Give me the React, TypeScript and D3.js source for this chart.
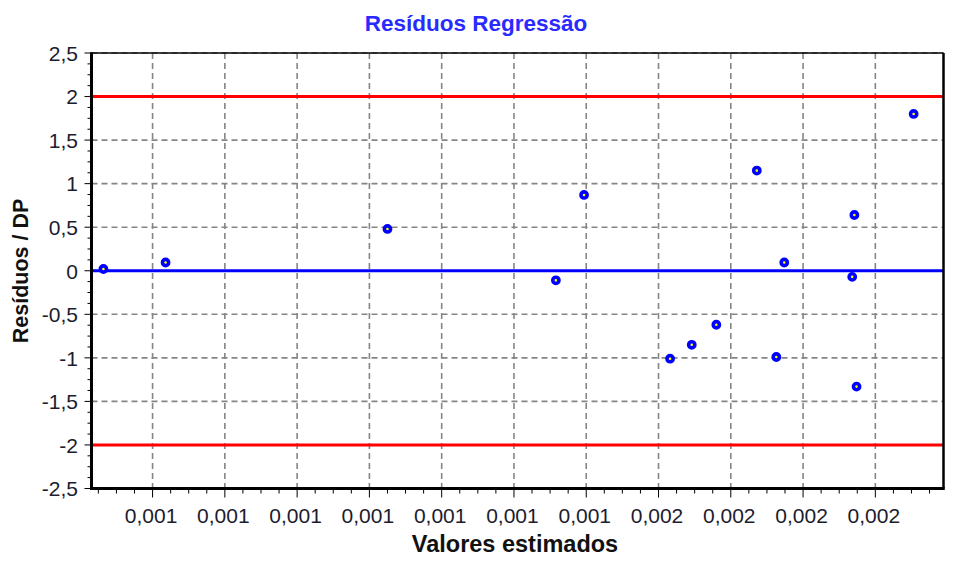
import React from "react";
import * as d3 from "d3";

const W = 959;
const H = 578;

const chartTitle = "Resíduos Regressão";
const xTitle = "Valores estimados";
const yTitle = "Resíduos / DP";

const xTickValues = [0.00082, 0.00092, 0.00102, 0.00112, 0.00122, 0.00132, 0.00142, 0.00152, 0.00162, 0.00172, 0.00182];
const xTickLabels = ["0,001", "0,001", "0,001", "0,001", "0,001", "0,001", "0,001", "0,002", "0,002", "0,002", "0,002"];
const yTickValues = [-2.5, -2, -1.5, -1, -0.5, 0, 0.5, 1, 1.5, 2, 2.5];
const yTickLabels = ["-2,5", "-2", "-1,5", "-1", "-0,5", "0", "0,5", "1", "1,5", "2", "2,5"];

const estimados = [0.000752, 0.000838, 0.001145, 0.001378, 0.001417, 0.001536, 0.001566, 0.0016, 0.001656, 0.001683, 0.001694, 0.001791, 0.001788, 0.001794, 0.001873];
const residuos = [0.02, 0.095, 0.48, -0.11, 0.87, -1.01, -0.85, -0.62, 1.15, -0.99, 0.095, 0.64, -0.07, -1.33, 1.8];

const limits = [-2, 2];
const xDomain = [0.0007355, 0.0019143];
const yDomain = [-2.5, 2.5];

export default function App() {
  const left = 91.5, right = 943.5, top = 53, bottom = 488.5;
  const x = d3.scaleLinear().domain(xDomain).range([left, right]);
  const y = d3.scaleLinear().domain(yDomain).range([bottom, top]);

  const xStep = xTickValues[1] - xTickValues[0];
  const xMinor: number[] = [];
  for (let k = -8; k <= 48; k++) {
    const v = xTickValues[0] + (k * xStep) / 4;
    if (v >= xDomain[0] && v <= xDomain[1] && k % 4 !== 0) xMinor.push(v);
  }
  const yMinor: number[] = [];
  for (let k = -20; k <= 20; k++) {
    const v = (k * 0.5) / 4;
    if (k % 4 !== 0) yMinor.push(v);
  }

  const font = "'Liberation Sans', Arial, sans-serif";
  const gridColor = "#858585";

  return (
    <svg width={W} height={H} style={{ position: "absolute", left: 0, top: 0, background: "#fff" }} fontFamily={font}>
      <rect x={0} y={0} width={W} height={H} fill="#fff" />
      <text x={476} y={31} textAnchor="middle" fontSize={22.5} fontWeight="bold" fill="#2a2aff">{chartTitle}</text>

      {/* grid */}
      {xTickValues.map((v, i) => (
        <line key={"gx" + i} x1={x(v)} x2={x(v)} y1={top} y2={bottom} stroke={gridColor} strokeWidth={1.6} strokeDasharray="6,4" />
      ))}
      {yTickValues.map((v, i) => (
        <line key={"gy" + i} x1={left} x2={right} y1={y(v)} y2={y(v)} stroke={gridColor} strokeWidth={1.6} strokeDasharray="6,4" />
      ))}

      {/* limit lines */}
      {limits.map((v, i) => (
        <line key={"lim" + i} x1={left} x2={right} y1={y(v)} y2={y(v)} stroke="#ff0000" strokeWidth={3} />
      ))}
      <line x1={left} x2={right} y1={y(0)} y2={y(0)} stroke="#0000ff" strokeWidth={3} />

      {/* points */}
      {estimados.map((v, i) => (
        <circle key={"p" + i} cx={x(v)} cy={y(residuos[i])} r={3.1} fill="#ffff00" stroke="#0000ff" strokeWidth={3.6} />
      ))}

      {/* frame */}
      <line x1={left} x2={right} y1={top} y2={top} stroke="#000" strokeWidth={1.5} />
      <line x1={right} x2={right} y1={top} y2={bottom} stroke="#000" strokeWidth={2.5} />
      <line x1={left} x2={left} y1={top - 0.75} y2={bottom + 1.5} stroke="#000" strokeWidth={3} />
      <line x1={left - 1.5} x2={right + 1.25} y1={bottom} y2={bottom} stroke="#000" strokeWidth={3} />

      {/* y ticks */}
      {yMinor.map((v, i) => (
        <line key={"ym" + i} x1={left - 4} x2={left} y1={y(v)} y2={y(v)} stroke="#000" strokeWidth={1} />
      ))}
      {yTickValues.map((v, i) => (
        <g key={"yt" + i}>
          <line x1={left - 7} x2={left} y1={y(v)} y2={y(v)} stroke="#000" strokeWidth={1} />
          <text x={78} y={y(v)} dy="0.37em" textAnchor="end" fontSize={21} fill="#1c1c2e">{yTickLabels[i]}</text>
        </g>
      ))}

      {/* x ticks */}
      {xMinor.map((v, i) => (
        <line key={"xm" + i} x1={x(v)} x2={x(v)} y1={bottom} y2={bottom + 5} stroke="#000" strokeWidth={1} />
      ))}
      {xTickValues.map((v, i) => (
        <g key={"xt" + i}>
          <line x1={x(v)} x2={x(v)} y1={bottom} y2={bottom + 9} stroke="#000" strokeWidth={1} />
          <text x={x(v) - 1.5} y={523} textAnchor="middle" fontSize={21} fill="#1c1c2e">{xTickLabels[i]}</text>
        </g>
      ))}

      <text x={515} y={552} textAnchor="middle" fontSize={23.5} fontWeight="bold" fill="#111">{xTitle}</text>
      <text transform={`translate(28, 271) rotate(-90)`} textAnchor="middle" fontSize={21.5} fontWeight="bold" fill="#111">{yTitle}</text>
    </svg>
  );
}
